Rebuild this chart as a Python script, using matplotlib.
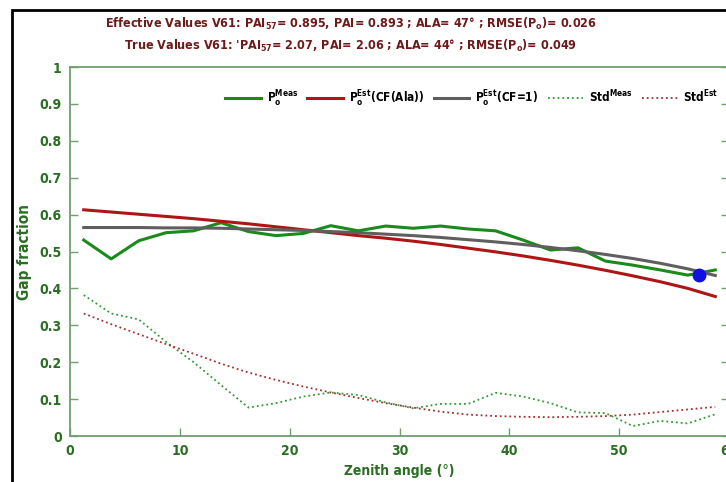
import matplotlib
matplotlib.use("Agg")
import matplotlib.pyplot as plt
from matplotlib.patches import Rectangle

plt.rcParams['font.family'] = ['DejaVu Sans']
plt.rcParams['font.stretch'] = 'condensed'
plt.rcParams['font.weight'] = 'bold'
plt.rcParams['mathtext.fontset'] = 'custom'
plt.rcParams['mathtext.rm'] = 'DejaVu Sans:bold:stretch=condensed'
plt.rcParams['mathtext.it'] = 'DejaVu Sans:bold:stretch=condensed'
plt.rcParams['mathtext.bf'] = 'DejaVu Sans:bold:stretch=condensed'

# zenith angles (deg)
zenith = [1.25, 3.75, 6.25, 8.75, 11.25, 13.75, 16.25, 18.75, 21.25, 23.75, 26.25, 28.75,
          31.25, 33.75, 36.25, 38.75, 41.25, 43.75, 46.25, 48.75, 51.25, 53.75, 56.25, 58.75]

p_meas = [0.531, 0.480, 0.529, 0.551, 0.556, 0.578, 0.554, 0.543, 0.549, 0.570, 0.556, 0.569,
          0.563, 0.569, 0.561, 0.556, 0.531, 0.504, 0.510, 0.474, 0.463, 0.450, 0.436, 0.450]

p_est_ala = [0.613, 0.607, 0.601, 0.595, 0.589, 0.582, 0.575, 0.567, 0.559, 0.551, 0.543, 0.536,
             0.528, 0.519, 0.509, 0.499, 0.488, 0.476, 0.463, 0.449, 0.434, 0.418, 0.400, 0.378]

p_est_cf1 = [0.565, 0.565, 0.565, 0.564, 0.564, 0.563, 0.561, 0.559, 0.557, 0.554, 0.551, 0.547,
             0.543, 0.538, 0.532, 0.526, 0.519, 0.511, 0.502, 0.492, 0.481, 0.468, 0.453, 0.435]

std_meas = [0.382, 0.332, 0.316, 0.255, 0.200, 0.138, 0.077, 0.089, 0.107, 0.118, 0.111, 0.091,
            0.075, 0.087, 0.087, 0.117, 0.107, 0.089, 0.064, 0.062, 0.027, 0.041, 0.034, 0.059]

std_est = [0.332, 0.303, 0.276, 0.249, 0.223, 0.196, 0.172, 0.152, 0.134, 0.118, 0.103, 0.089,
           0.077, 0.066, 0.058, 0.054, 0.052, 0.051, 0.052, 0.054, 0.058, 0.065, 0.072, 0.079]

# PAI57 point
hinge_x = [57.3]
hinge_y = [0.437]

axis_green = '#6f9f6f'
text_green = '#2a6e22'
title_red = '#6e1a1a'

fig = plt.figure(figsize=(7.26, 4.82), dpi=100)
ax = fig.add_axes([70 / 726, 1 - 436 / 482, 659 / 726, 369 / 482])

ax.plot(zenith, p_meas, color='#1a8a1a', lw=2.2, label=r'P$_{o}^{Meas}$')
ax.plot(zenith, p_est_ala, color='#b01515', lw=2.2, label=r'P$_{o}^{Est}$(CF(Ala))')
ax.plot(zenith, p_est_cf1, color='#5f5f5f', lw=2.2, label=r'P$_{o}^{Est}$(CF=1)')
ax.plot(zenith, std_meas, color='#2f9a2f', lw=1.3, ls=':', label=r'Std$^{Meas}$')
ax.plot(zenith, std_est, color='#a03030', lw=1.3, ls=':', label=r'Std$^{Est}$')
ax.plot(hinge_x, hinge_y, 'o', color='#1010e0', ms=9, zorder=5)

ax.set_xlim(0, 60)
ax.set_ylim(0, 1)
ax.set_xticks(range(0, 61, 10))
ax.set_yticks([i / 10 for i in range(11)])
ax.set_yticklabels(['0', '0.1', '0.2', '0.3', '0.4', '0.5', '0.6', '0.7', '0.8', '0.9', '1'])

for s in ax.spines.values():
    s.set_color(axis_green)
    s.set_linewidth(1.3)
ax.tick_params(direction='in', length=6, width=1, color=axis_green, labelcolor=text_green,
               labelsize=10, top=False, right=True, pad=6)
for lab in ax.get_xticklabels() + ax.get_yticklabels():
    lab.set_fontweight('bold')

ax.set_xlabel('Zenith angle (°)', color=text_green, fontsize=10, fontweight='bold', labelpad=4)
ax.set_ylabel('Gap fraction', color=text_green, fontsize=11, fontweight='bold', labelpad=5)

leg = ax.legend(loc='center', bbox_to_anchor=(0.61, 0.914), ncol=5, frameon=False,
                fontsize=8.5, handlelength=3.0, columnspacing=0.8, handletextpad=0.5)
for t in leg.get_texts():
    t.set_fontweight('bold')

fig.text(351 / 726, 1 - 24 / 482,
         r'Effective Values V61: PAI$_{57}$= 0.895, PAI= 0.893 ; ALA= 47° ; RMSE(P$_{o}$)= 0.026',
         ha='center', va='center', color=title_red, fontsize=9, fontweight='bold')
fig.text(351 / 726, 1 - 46 / 482,
         r"True Values V61: 'PAI$_{57}$= 2.07, PAI= 2.06 ; ALA= 44° ; RMSE(P$_{o}$)= 0.049",
         ha='center', va='center', color=title_red, fontsize=9, fontweight='bold')

# outer frame of the original figure (cropped)
fig.add_artist(Rectangle((12 / 726, -0.1), 1.2, 1 - 10 / 482 + 0.1, transform=fig.transFigure,
                         fill=False, edgecolor='black', lw=2))

fig.savefig('out.png', dpi=100)
